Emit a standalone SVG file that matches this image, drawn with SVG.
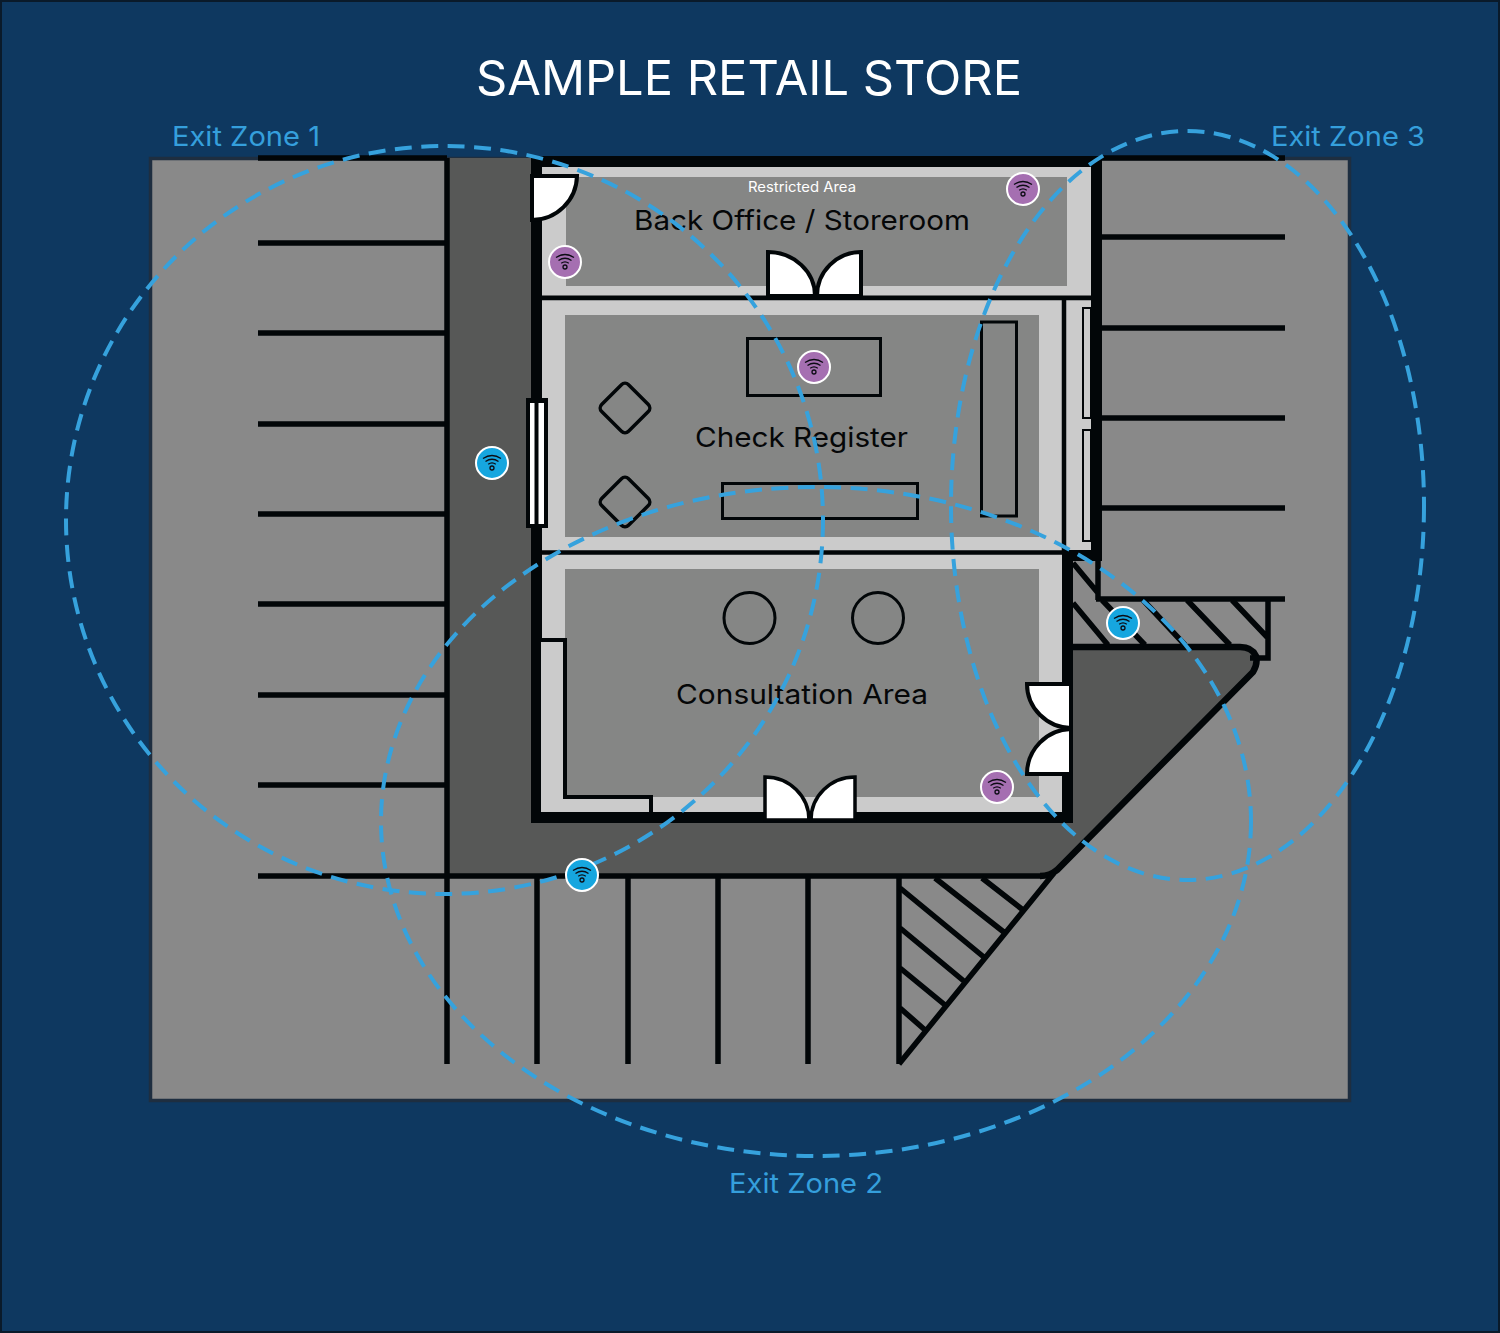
<svg xmlns="http://www.w3.org/2000/svg" width="1500" height="1333" viewBox="0 0 1500 1333">
<style>
.t{font-family:"Inter","Open Sans","Liberation Sans",sans-serif;text-anchor:start}
.room{font-size:27.5px;fill:#050708}
.zone{font-size:27.5px;fill:#359fdc}
.k{stroke:#020608;fill:none;stroke-linecap:butt}
.park{stroke:#020608;stroke-width:5.5;fill:none}
.hatch{stroke:#020608;stroke-width:5.5;fill:none}
.thin{stroke:#020608;stroke-width:3;fill:none}
.door{fill:#fff;stroke:#020608;stroke-width:4;stroke-linejoin:miter}
.inner{fill:#858685}
.light{fill:#cbcbcb}
.wall{fill:#020608}
.dash{fill:none;stroke:#36a2dd;stroke-width:4;stroke-dasharray:17 9.5}
.purple{fill:#a56fb1;stroke:#fff;stroke-width:2}
.blue{fill:#16a6df;stroke:#fff;stroke-width:2}
.wifi{fill:none;stroke:#0c0c14;stroke-width:1.3}
</style>
<defs>
<g id="wifi">
<path class="wifi" d="M-9,-4.5Q0,-10.5 9,-4.5"/>
<path class="wifi" d="M-6.5,-1.5Q0,-6 6.5,-1.5"/>
<path class="wifi" d="M-3.8,1.2Q0,-1.6 3.8,1.2"/>
<circle class="wifi" cx="0" cy="5" r="2"/>
</g>
</defs>
<rect x="1" y="1" width="1498" height="1331" fill="#0e3860" stroke="#0a1a2a" stroke-width="2"/>
<rect x="150.500" y="158.500" width="1199" height="942" fill="#898989" stroke="#1e2e40" stroke-width="3.500"/>

<g id="walkway">
<path d="M447,158H535V822H1070V647H1240Q1252,647 1256,656Q1258,664 1253,672L1057,870Q1050,876 1040,876H447Z" fill="#575857"/>
<path class="hatch" d="M1070,647H1240Q1252,647 1256,656Q1258,664 1253,672L1057,870Q1050,876 1040,876" style="stroke-width:6.500"/>
</g>

<g id="parking">
<path class="park" d="M258,158H447M1101,158H1285M258,243H447M258,333H447M258,424H447M258,514H447M258,604H447M258,695H447M258,785H447M258,876H1042M1101,237H1285M1101,328H1285M1101,418H1285M1101,508H1285M1096,599H1285"/>
<path class="park" d="M447,158V1064M537,876V1064M628,876V1064M718,876V1064M808,876V1064M899,876V1064"/>
</g>

<g id="hatching">
<path class="hatch" d="M899,1064L1054,873M900,888L985,958M900,928L965,982M900,968L945,1005M900,1008L925,1030M935,878L1005,933M982,878L1023,910"/>
<path class="hatch" d="M1098,558V600M1268,600V658H1250M1073,563L1098,593M1073,603L1108,645M1102,600L1145,645M1143,600L1185,645M1187,600L1230,645M1232,600L1267,637"/>
</g>

<g id="building">
<rect class="light" x="541" y="167" width="550" height="128"/>
<rect class="inner" x="566" y="177" width="501" height="109"/>
<rect class="light" x="541" y="300" width="550" height="252"/>
<rect class="inner" x="565" y="315" width="474" height="222"/>
<rect class="light" x="541" y="554" width="522" height="258"/>
<rect class="inner" x="565" y="569" width="474" height="228"/>
<rect class="wall" x="531" y="156" width="571" height="11"/>
<rect class="wall" x="1091" y="156" width="11" height="404"/>
<rect class="wall" x="531" y="156" width="11" height="667"/>
<rect class="wall" x="531" y="812" width="542" height="11"/>
<rect class="wall" x="1062" y="550" width="11" height="273"/>
<rect class="wall" x="1062" y="550" width="40" height="11"/>
<path class="k" stroke-width="4.500" d="M541,298H1091M541,552.500H1064M1064,298V552"/>
<rect x="1083" y="308" width="8" height="110" fill="#cbcbcb" stroke="#020608" stroke-width="2"/>
<rect x="1083" y="430" width="8" height="111" fill="#cbcbcb" stroke="#020608" stroke-width="2"/>
<path d="M541,640H565V797H651V812H541Z" class="light"/>
<path class="k" stroke-width="4" d="M541,640H565V797H651V812"/>
</g>

<g id="fixtures">
<rect class="thin" x="747.500" y="338.500" width="133" height="57"/>
<rect class="thin" x="722.500" y="483.500" width="195" height="35"/>
<rect class="thin" x="981.500" y="322" width="35" height="194"/>
<rect class="thin" x="606" y="389" width="38" height="38" rx="5" transform="rotate(45 625 408)" style="stroke-width:3.500"/>
<rect class="thin" x="606" y="483" width="38" height="38" rx="5" transform="rotate(45 625 502)" style="stroke-width:3.500"/>
<circle class="thin" cx="749.500" cy="618" r="25.500"/>
<circle class="thin" cx="878" cy="618" r="25.500"/>
</g>

<g id="doors">
<path class="door" d="M532,176H577A45,45 0 0 1 532,220Z"/>
<path class="door" d="M768,252A47,44 0 0 1 815,296H768Z"/>
<path class="door" d="M861,252A44,44 0 0 0 817,296H861Z"/>
<path class="door" d="M765,777A44,43 0 0 1 809,820H765Z" style="stroke-width:3.500"/>
<path class="door" d="M855,777A44,43 0 0 0 811,820H855Z" style="stroke-width:3.500"/>
<path class="door" d="M1027,684H1071V728A45,44 0 0 1 1027,684Z"/>
<path class="door" d="M1027,774H1071V729A45,45 0 0 0 1027,774Z"/>
<rect x="526" y="398" width="22" height="130" fill="#020608"/>
<rect x="530" y="403" width="4.500" height="121" fill="#fff"/>
<rect x="538.500" y="403" width="5.500" height="121" fill="#fff"/>
</g>

<g id="labels">
<text class="t" x="476" y="95" font-size="48" fill="#fff" textLength="546" lengthAdjust="spacingAndGlyphs">SAMPLE RETAIL STORE</text>
<text class="t" x="748" y="192" font-size="14" fill="#fff" textLength="108" lengthAdjust="spacingAndGlyphs">Restricted Area</text>
<text class="t room" x="634" y="230" textLength="336" lengthAdjust="spacingAndGlyphs">Back Office / Storeroom</text>
<text class="t room" x="695" y="447" textLength="213" lengthAdjust="spacingAndGlyphs">Check Register</text>
<text class="t room" x="676" y="704" textLength="252" lengthAdjust="spacingAndGlyphs">Consultation Area</text>
<text class="t zone" x="172" y="146" textLength="148" lengthAdjust="spacingAndGlyphs">Exit Zone 1</text>
<text class="t zone" x="1271" y="146" textLength="154" lengthAdjust="spacingAndGlyphs">Exit Zone 3</text>
<text class="t zone" x="729" y="1193" textLength="154" lengthAdjust="spacingAndGlyphs">Exit Zone 2</text>
</g>

<g id="connectors">
<ellipse class="dash" cx="444.500" cy="520" rx="378.500" ry="374"/>
<ellipse class="dash" cx="816" cy="821.500" rx="435" ry="334.500"/>
<ellipse class="dash" cx="1187.500" cy="505.500" rx="236.500" ry="374.500"/>
</g>

<g id="sensor-p1"><circle class="purple" cx="1023" cy="189" r="16"/><use href="#wifi" x="1023" y="189"/></g>
<g id="sensor-p2"><circle class="purple" cx="565" cy="262" r="16"/><use href="#wifi" x="565" y="262"/></g>
<g id="sensor-p3"><circle class="purple" cx="814" cy="367" r="16"/><use href="#wifi" x="814" y="367"/></g>
<g id="sensor-p4"><circle class="purple" cx="997" cy="787" r="16"/><use href="#wifi" x="997" y="787"/></g>
<g id="sensor-b1"><circle class="blue" cx="492" cy="463" r="16"/><use href="#wifi" x="492" y="463"/></g>
<g id="sensor-b2"><circle class="blue" cx="1123" cy="623" r="16"/><use href="#wifi" x="1123" y="623"/></g>
<g id="sensor-b3"><circle class="blue" cx="582" cy="875" r="16"/><use href="#wifi" x="582" y="875"/></g>
</svg>
